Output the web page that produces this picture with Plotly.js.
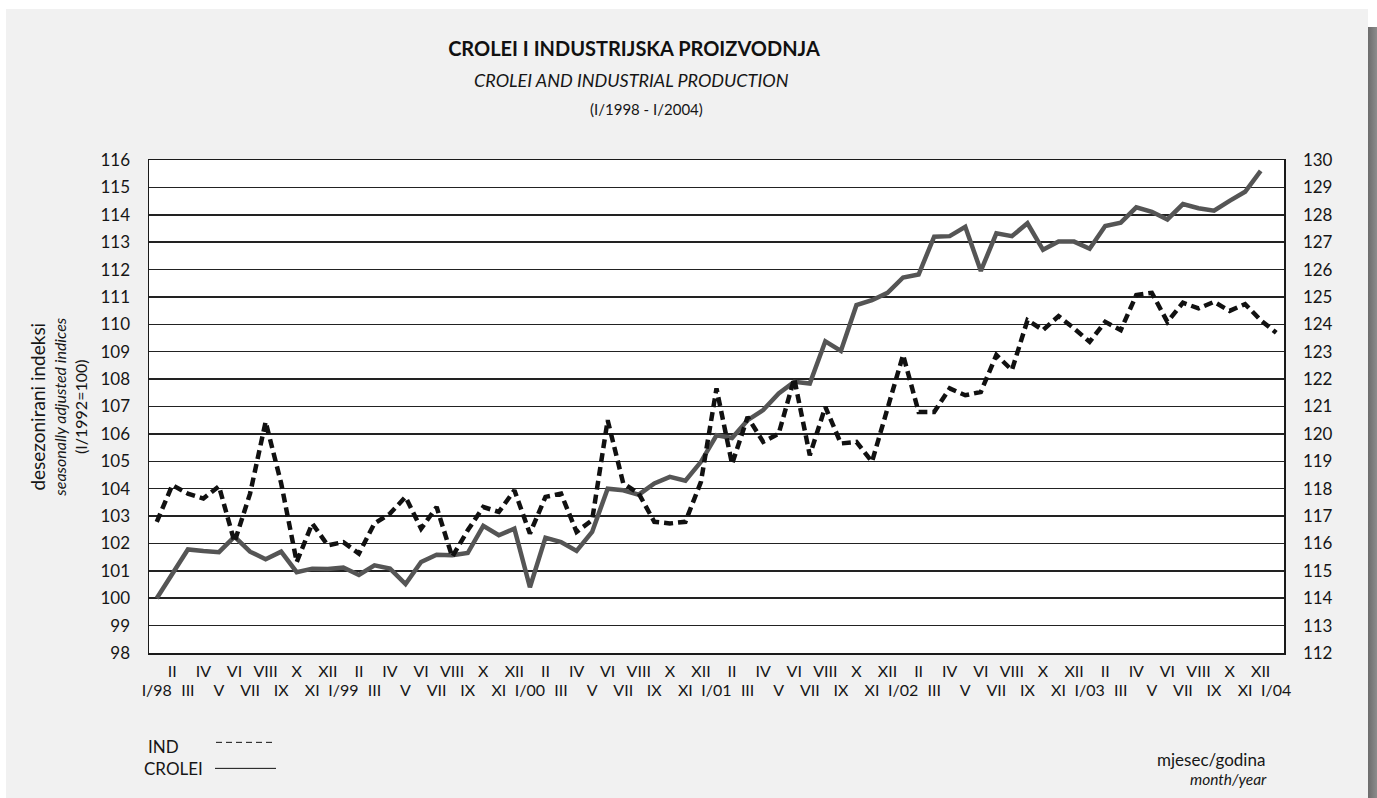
<!DOCTYPE html>
<html>
<head>
<meta charset="utf-8">
<script src="https://cdn.plot.ly/plotly-3.0.1.min.js"></script>
<style>
  html, body { margin: 0; padding: 0; background: #ffffff; width: 1377px; height: 798px; overflow: hidden; }
  #panel { position: absolute; left: 6px; top: 9px; width: 1362px; height: 789px; background: #f1f1f1; }
  #shadow { position: absolute; left: 1368px; top: 27px; width: 9px; height: 771px;
            background: linear-gradient(to right, #6c6c6c, #8c8c8c); }
  #chart { position: absolute; left: 0; top: 0; width: 1377px; height: 798px; }
</style>
</head>
<body>
<div id="panel"></div>
<div id="shadow"></div>
<div id="chart"></div>
<script>
// ---- data ----
const romans = ["I","II","III","IV","V","VI","VII","VIII","IX","X","XI","XII"];
const years = ["98","99","00","01","02","03","04"];

// CROLEI (left axis), I/1998 - XII/2003
const crolei = [
  100.0, 100.9, 101.78, 101.72, 101.68, 102.25, 101.7, 101.42, 101.7, 100.95, 101.08, 101.07,
  101.12, 100.85, 101.2, 101.08, 100.52, 101.32, 101.59, 101.57, 101.65, 102.64, 102.3, 102.54,
  100.4, 102.21, 102.05, 101.73, 102.42, 104.0, 103.94, 103.78, 104.19, 104.43, 104.29, 104.98,
  105.95, 105.85, 106.5, 106.87, 107.48, 107.9, 107.84, 109.38, 109.03, 110.7, 110.88, 111.15,
  111.71, 111.82, 113.2, 113.22, 113.56, 111.95, 113.32, 113.22, 113.69, 112.72, 113.02, 113.02,
  112.76, 113.59, 113.71, 114.27, 114.11, 113.83, 114.39, 114.24, 114.15, 114.51, 114.84, 115.6
];

// IND (right axis), I/1998 - I/2004
const ind = [
  116.79, 118.13, 117.82, 117.64, 118.09, 116.05, 117.82, 120.44, 118.2, 115.32, 116.73, 115.93,
  116.05, 115.63, 116.73, 117.09, 117.7, 116.54, 117.33, 115.51, 116.48, 117.33, 117.15, 117.94,
  116.36, 117.7, 117.82, 116.42, 116.85, 120.5, 118.2, 117.82, 116.79, 116.73, 116.79, 118.25,
  121.66, 118.9, 120.62, 119.71, 120.01, 122.02, 119.22, 120.99, 119.65, 119.71, 118.98, 120.95,
  122.88, 120.8, 120.8, 121.66, 121.41, 121.53, 122.88, 122.33, 124.15, 123.79, 124.3, 123.85,
  123.36, 124.09, 123.79, 125.07, 125.15, 124.09, 124.79, 124.58, 124.82, 124.49, 124.74, 124.15,
  123.69
];

// categories: month/year
const months = [];
years.forEach(function (y) {
  romans.forEach(function (r) { months.push(r + "/" + y); });
});
months.length = 73; // I/98 .. I/04

// tick labels: even months on the upper row, odd months (with year for January) on the lower row
const upperVals = [], upperText = [], lowerVals = [], lowerText = [];
months.forEach(function (m, i) {
  const parts = m.split("/");
  if (i % 2 === 1) { upperVals.push(m); upperText.push(parts[0]); }
  else { lowerVals.push(m); lowerText.push(parts[0] === "I" ? m : parts[0]); }
});

// ---- layout helpers (pixel -> paper) ----
const L = 149, R = 1284, T = 160, B = 652.7;
function px(x) { return (x - L) / (R - L); }
function py(y) { return (B - y) / (B - T); }

const FONT = "Lato, 'Open Sans', sans-serif";
const INK = "#161616";

const traces = [
  {
    x: months.slice(0, crolei.length), y: crolei, name: "CROLEI",
    type: "scatter", mode: "lines", xaxis: "x", yaxis: "y",
    line: { color: "#555555", width: 4.5 }
  },
  {
    x: months, y: ind, name: "IND",
    type: "scatter", mode: "lines", xaxis: "x2", yaxis: "y2",
    line: { color: "#111111", width: 4.5, dash: "9px,5px" }
  }
];

const layout = {
  width: 1377, height: 798,
  margin: { l: L, r: 1377 - R, t: T, b: 798 - 653 },
  paper_bgcolor: "rgba(0,0,0,0)",
  plot_bgcolor: "#ffffff",
  showlegend: false,
  font: { family: FONT, color: INK, size: 17 },
  title: {
    text: "<b>CROLEI I INDUSTRIJSKA PROIZVODNJA</b>",
    font: { family: FONT, size: 20, color: "#111" },
    xref: "container", yref: "container",
    x: 634 / 1377, xanchor: "center",
    y: 1 - 49 / 798, yanchor: "middle"
  },
  xaxis: {
    type: "category", categoryorder: "array", categoryarray: months,
    range: [-0.5, 72.5],
    tickmode: "array", tickvals: upperVals, ticktext: upperText,
    ticks: "", ticklabelstandoff: 3,
    tickfont: { family: FONT, size: 16, color: INK },
    showgrid: false, zeroline: false,
    showline: true, linecolor: "#1a1a1a", linewidth: 1.5, mirror: true
  },
  xaxis2: {
    type: "category", categoryorder: "array", categoryarray: months,
    overlaying: "x", side: "bottom", anchor: "y",
    range: [-0.5, 72.5],
    tickmode: "array", tickvals: lowerVals, ticktext: lowerText,
    ticks: "", ticklabelstandoff: 26,
    tickfont: { family: FONT, size: 16, color: INK },
    showgrid: false, zeroline: false, showline: false
  },
  yaxis: {
    range: [98, 116], tickmode: "linear", tick0: 98, dtick: 1,
    ticks: "", ticklabelstandoff: 14,
    tickfont: { family: FONT, size: 17, color: INK },
    showgrid: true, gridcolor: "#222222", gridwidth: 1.5,
    zeroline: false, showline: true, linecolor: "#1a1a1a", linewidth: 1.5
  },
  yaxis2: {
    overlaying: "y", side: "right",
    range: [112, 130], tickmode: "linear", tick0: 112, dtick: 1,
    ticks: "", ticklabelstandoff: 14,
    tickfont: { family: FONT, size: 17, color: INK },
    showgrid: false, zeroline: false,
    showline: true, linecolor: "#1a1a1a", linewidth: 1.5
  },
  annotations: [
    { text: "<i>CROLEI AND INDUSTRIAL PRODUCTION</i>", xref: "paper", yref: "paper",
      x: px(631.5), y: py(80), xanchor: "center", yanchor: "middle", showarrow: false,
      font: { family: FONT, size: 18, color: INK } },
    { text: "(I/1998 - I/2004)", xref: "paper", yref: "paper",
      x: px(646), y: py(109), xanchor: "center", yanchor: "middle", showarrow: false,
      font: { family: FONT, size: 15, color: INK } },
    { text: "<span style=\"font-size:19px\">desezonirani indeksi</span><br>" +
            "<span style=\"font-size:16px\"><i>seasonally adjusted indices</i></span><br>" +
            "<span style=\"font-size:16px\">(I/1992=100)</span>",
      xref: "paper", yref: "paper", x: px(58.5), y: py(407), textangle: -90,
      xanchor: "center", yanchor: "middle", showarrow: false,
      font: { family: FONT, size: 16, color: INK } },
    { text: "IND", xref: "paper", yref: "paper", x: px(146), y: py(746),
      xanchor: "left", yanchor: "middle", showarrow: false,
      font: { family: FONT, size: 17, color: INK } },
    { text: "CROLEI", xref: "paper", yref: "paper", x: px(142), y: py(768),
      xanchor: "left", yanchor: "middle", showarrow: false,
      font: { family: FONT, size: 17, color: INK } },
    { text: "mjesec/godina", xref: "paper", yref: "paper", x: px(1267), y: py(759),
      xanchor: "right", yanchor: "middle", showarrow: false,
      font: { family: FONT, size: 17, color: INK } },
    { text: "<i>month/year</i>", xref: "paper", yref: "paper", x: px(1269), y: py(779),
      xanchor: "right", yanchor: "middle", showarrow: false,
      font: { family: FONT, size: 15.5, color: INK } }
  ],
  shapes: [
    { type: "line", xref: "paper", yref: "paper", x0: px(216), x1: px(276), y0: py(742), y1: py(742),
      line: { color: "#111", width: 1, dash: "6px,4px" } },
    { type: "line", xref: "paper", yref: "paper", x0: px(215), x1: px(276), y0: py(768), y1: py(768),
      line: { color: "#111", width: 1 } }
  ]
};

Plotly.newPlot("chart", traces, layout, { staticPlot: true, displayModeBar: false });
</script>
</body>
</html>
